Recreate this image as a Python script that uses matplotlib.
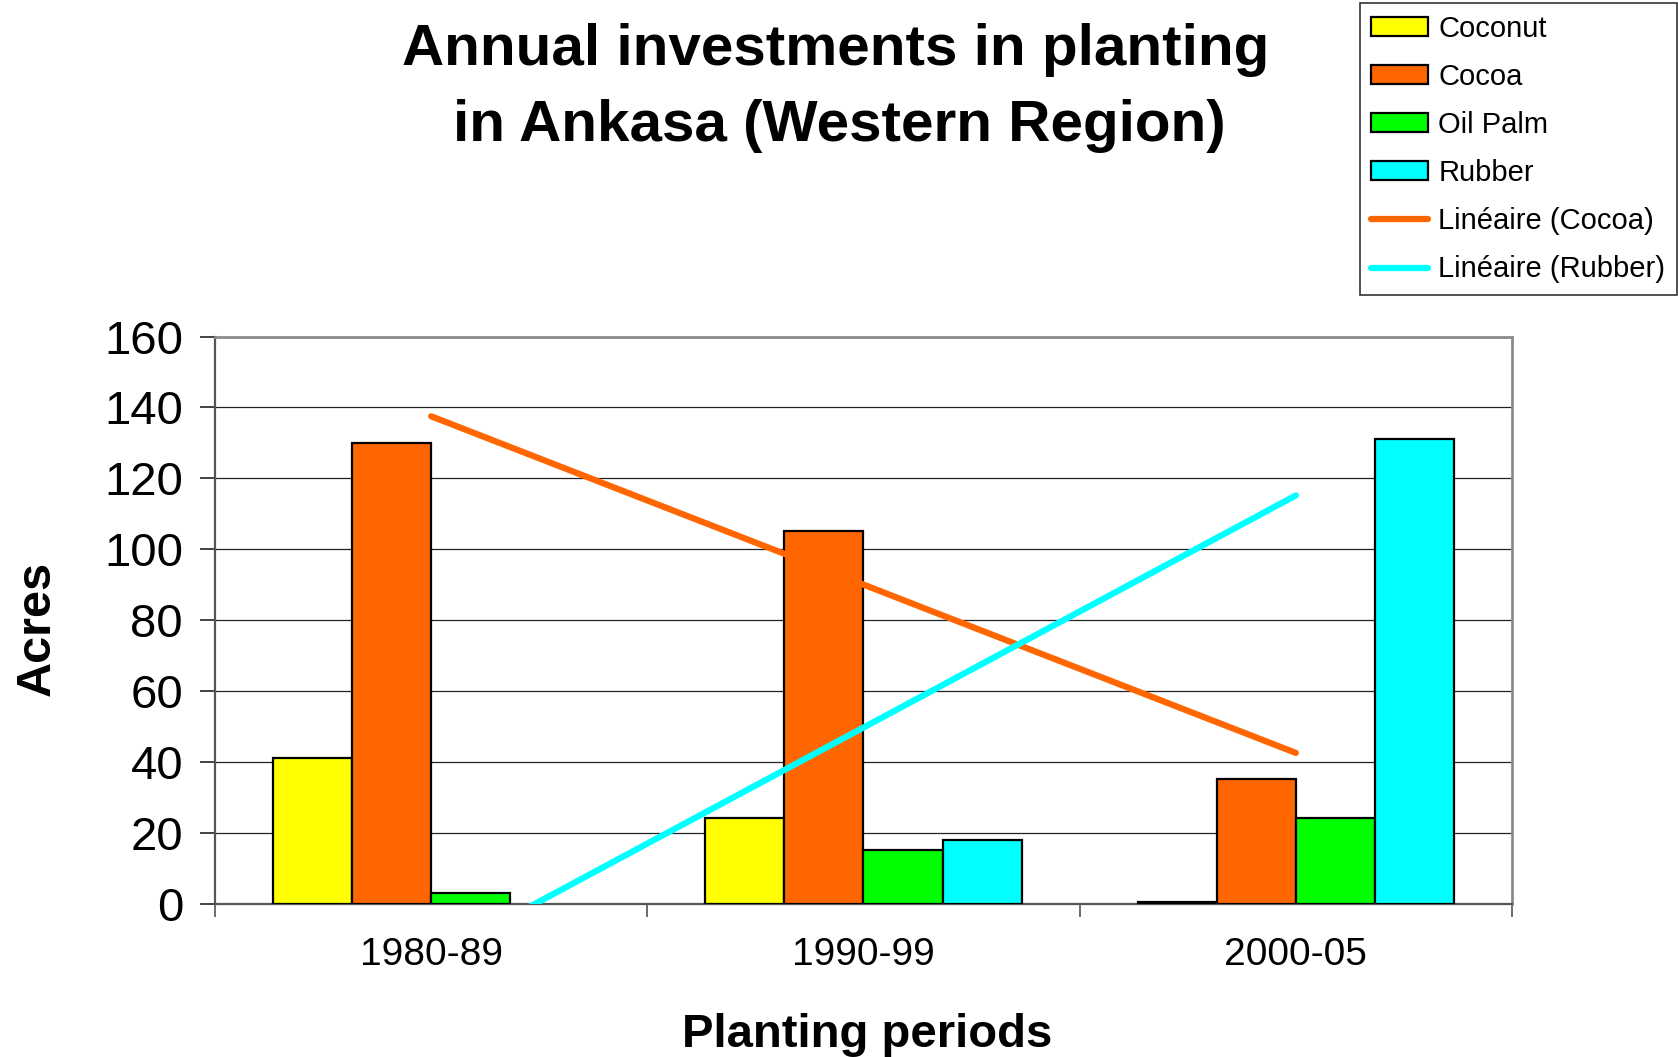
import numpy as np
from matplotlib import pyplot as plt
from matplotlib.patches import Patch

periods = ['1980-89', '1990-99', '2000-05']
coconut = [41, 24, 0.5]
cocoa = [130, 105, 35]
oil_palm = [3, 15, 24]
rubber = [0, 18, 131]

series_names = ['Coconut', 'Cocoa', 'Oil Palm', 'Rubber']
series_colors = ['#FFFF00', '#FF6600', '#00FF00', '#00FFFF']

plt.rcParams['font.family'] = ['Liberation Sans', 'DejaVu Sans']

fig = plt.figure(figsize=(16.78, 10.57), dpi=100)
ax = fig.add_axes([0.1281, 0.1452, 0.7730, 0.5364])

x = np.arange(len(periods))
width = 0.183
all_series = [coconut, cocoa, oil_palm, rubber]
handles = []
for i, (vals, name, col) in enumerate(zip(all_series, series_names, series_colors)):
    b = ax.bar(x + (i - 1.5) * width, vals, width, color=col, edgecolor='black',
               linewidth=1.6, zorder=3)
    # empty bars leave no mark
    for rect, v in zip(b, vals):
        if v == 0:
            rect.set_linewidth(0)
    handles.append(Patch(facecolor=col, edgecolor='black', linewidth=1.6, label=name))

# linear trend lines (Excel "Linéaire")
xs = np.array([x[0], x[-1]])
for vals, col, name in [(cocoa, '#FF6600', 'Linéaire (Cocoa)'), (rubber, '#00FFFF', 'Linéaire (Rubber)')]:
    k, c = np.polyfit(x, vals, 1)
    ln, = ax.plot(xs, k * xs + c, color=col, lw=4.5, solid_capstyle='round', zorder=4, label=name)
    handles.append(ln)

ax.set_xlim(-0.5, 2.5)
ax.set_ylim(0, 160)
ax.set_yticks(np.arange(0, 161, 20))
ax.yaxis.grid(True, color='#222222', lw=0.9, zorder=0)
ax.set_axisbelow(True)

ax.set_xticks(x)
ax.set_xticklabels(periods, fontsize=28)
ax.set_xticks([-0.5, 0.5, 1.5, 2.5], minor=True)
ax.tick_params(axis='x', which='major', length=0, pad=24)
ax.tick_params(axis='x', which='minor', length=9, width=1.2, color='#555555', direction='out')
ax.tick_params(axis='y', length=11, width=1.2, color='#222222', pad=12, labelsize=34)

for side in ['top', 'right']:
    ax.spines[side].set_color('#8c8c8c')
    ax.spines[side].set_linewidth(2)
ax.spines['left'].set_color('#555555')
ax.spines['left'].set_linewidth(1.6)
ax.spines['bottom'].set_color('#555555')
ax.spines['bottom'].set_linewidth(1.6)

fig.text(0.498, 0.9385, 'Annual investments in planting', ha='center', va='baseline',
         fontsize=42, fontweight='bold')
fig.text(0.500, 0.867, 'in Ankasa (Western Region)', ha='center', va='baseline',
         fontsize=42, fontweight='bold')

fig.text(0.0225, 0.405, 'Acres', rotation=90, ha='center', va='center',
         fontsize=35, fontweight='bold')
fig.text(0.5167, 0.0095, 'Planting periods', ha='center', va='baseline',
         fontsize=34, fontweight='bold')

leg = fig.legend(handles=handles, loc='upper right', bbox_to_anchor=(0.9994, 0.997),
                 fontsize=21, frameon=True, fancybox=False, borderaxespad=0,
                 handlelength=1.95, handleheight=0.62, handletextpad=0.35,
                 labelspacing=0.69, borderpad=0.4)
leg.get_frame().set_edgecolor('black')
leg.get_frame().set_linewidth(1.2)

fig.savefig('out.png', dpi=100)
